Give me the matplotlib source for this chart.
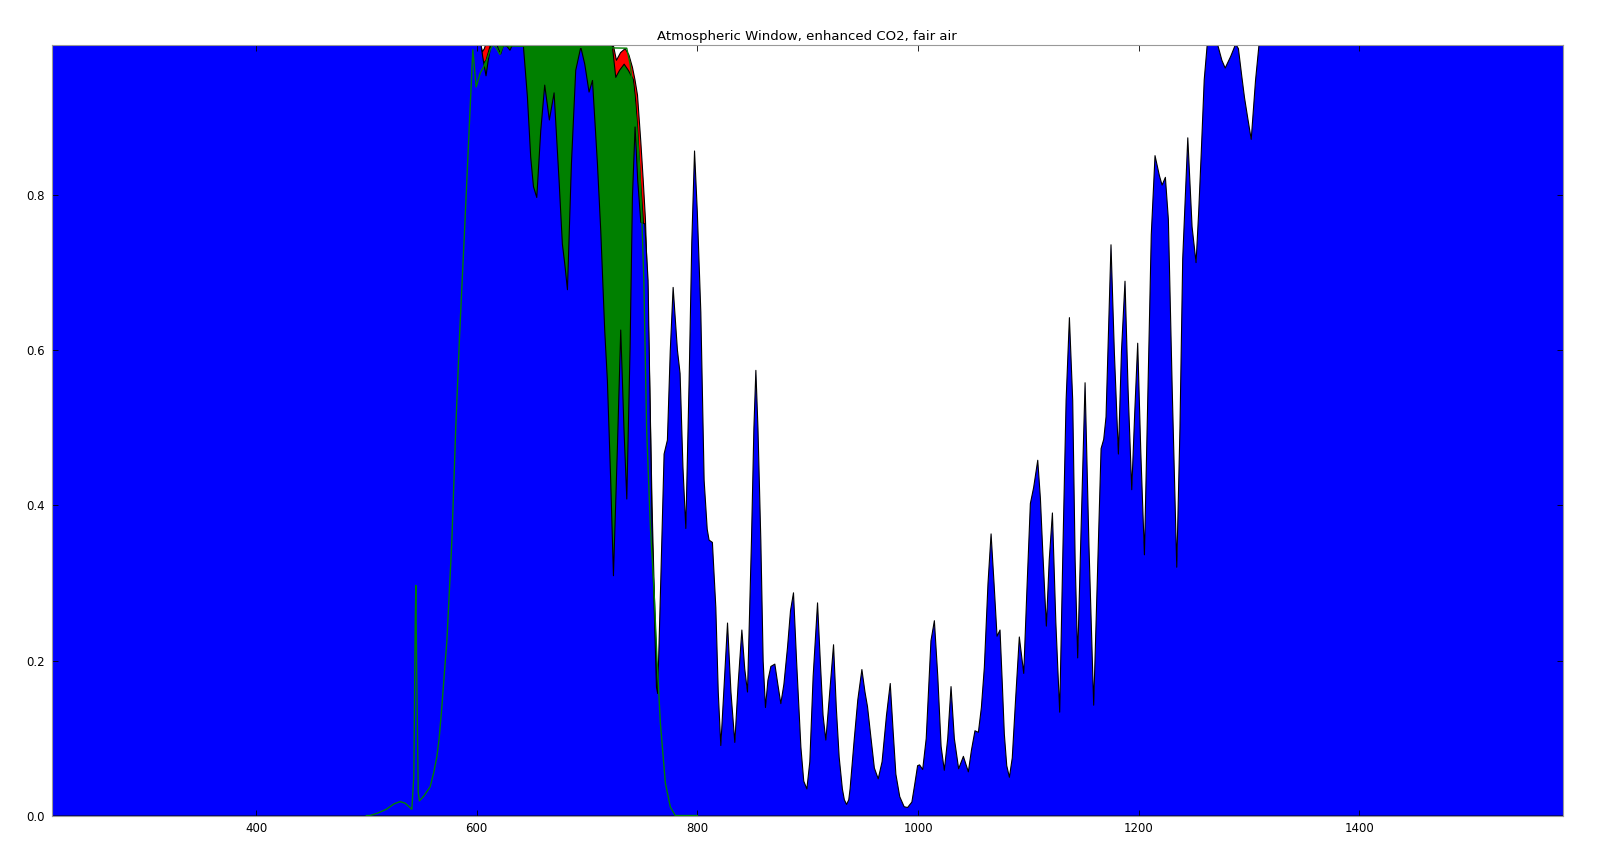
import numpy as np
import matplotlib
matplotlib.use('Agg')
from matplotlib import pyplot as plt

# wavenumber (cm-1) / absorption values
# blue = water vapour band, drawn on top
wn_blue = [214.6, 600, 603.5, 605.5, 608, 610, 612.5, 617, 619, 621.3, 624, 627, 629.7, 632, 636, 641.5,
           645.5, 648.5, 651, 654, 657.6, 661.2, 665.4, 669.7, 674.2, 677.2, 679.4, 681.8, 685.4, 689.3,
           693.9, 697.5, 701.4, 704.5, 709, 712, 715.6, 718, 721, 723.5, 727.1, 730.1, 733.1, 735.6,
           738.6, 740.7, 743.1, 745.5, 748.3, 751.9, 754.9, 758.8, 762.5, 763.6, 766.4, 769.4, 772.4,
           775, 777.6, 781.5, 783.9, 786.5, 789.1, 792.1, 794.5, 797, 799.5, 802.7, 805.7, 808.5, 810.2,
           813.2, 816.3, 818.5, 820.8, 823.5, 826.9, 830, 833.5, 836.5, 839.9, 842.5, 845, 848.6, 850.8,
           852.6, 854.5, 857.1, 859.2, 861.3, 863.5, 866.2, 869.8, 872.5, 875.2, 878, 881.3, 884, 886.7,
           889.5, 893.4, 896, 898.8, 901.5, 904.5, 908.5, 911, 913.5, 916, 919, 923, 925.5, 928.1, 931,
           932.8, 934.8, 936.8, 938, 941.7, 945, 948.7, 951.5, 953.8, 957, 960, 963.5, 967, 971, 974.4, 977,
           979.5, 983, 987, 990.1, 994, 996.5, 999.2, 1001, 1003.8, 1007, 1011.3, 1014.4, 1017.5, 1020.5,
           1023.4, 1026.5, 1029.5, 1032.5, 1036.4, 1040.7, 1045.2, 1048, 1051.2, 1054.3, 1057, 1059.7, 1063,
           1065.8, 1068.5, 1071.2, 1073.9, 1076, 1077.8, 1080, 1082.4, 1085, 1088, 1091.4, 1095.4, 1098.5,
           1101.4, 1104.4, 1108.1, 1110.5, 1112.6, 1115.9, 1118.5, 1121.4, 1124.5, 1128, 1131, 1133.8,
           1136.8, 1139.8, 1142, 1144.3, 1147, 1151, 1154.5, 1158.8, 1162, 1165.5, 1167.9, 1170, 1174.5,
           1177.5, 1181.2, 1184, 1187.2, 1190, 1193.3, 1196, 1198.7, 1201.5, 1204.8, 1208, 1211, 1214.4,
           1218.4, 1220.8, 1223.8, 1226.5, 1230, 1234.1, 1237, 1239.5, 1244.1, 1248, 1251.6, 1254, 1256.2,
           1259, 1262, 1269, 1271.4, 1275, 1278, 1283, 1287.5, 1290, 1293, 1295.5, 1298.5, 1301.6, 1303.5,
           1305.5, 1309, 1584.7]
abs_blue = [1.0, 1.0, 0.994, 0.975, 0.955, 0.975, 0.994, 1.0, 0.99, 0.983, 0.995, 0.993, 0.988, 0.995, 1.0, 1.0,
            0.928, 0.85, 0.812, 0.798, 0.884, 0.943, 0.898, 0.933, 0.82, 0.738, 0.712, 0.679, 0.841, 0.962,
            0.992, 0.97, 0.934, 0.949, 0.841, 0.755, 0.626, 0.562, 0.433, 0.31, 0.476, 0.627, 0.497, 0.409,
            0.605, 0.798, 0.889, 0.82, 0.766, 0.764, 0.691, 0.347, 0.166, 0.158, 0.304, 0.467, 0.485,
            0.6, 0.682, 0.601, 0.571, 0.45, 0.371, 0.562, 0.74, 0.858, 0.78, 0.65, 0.433, 0.37, 0.356,
            0.353, 0.269, 0.16, 0.091, 0.16, 0.249, 0.16, 0.095, 0.17, 0.240, 0.19, 0.160, 0.355, 0.5,
            0.575, 0.5, 0.355, 0.2, 0.14, 0.175, 0.193, 0.196, 0.17, 0.145, 0.17, 0.218, 0.265, 0.288,
            0.2, 0.089, 0.045, 0.035, 0.07, 0.18, 0.275, 0.2, 0.13, 0.098, 0.15, 0.221, 0.14, 0.076, 0.035,
            0.021, 0.015, 0.021, 0.035, 0.098, 0.15, 0.189, 0.16, 0.141, 0.1, 0.062, 0.048, 0.07, 0.13, 0.171, 0.11,
            0.054, 0.025, 0.012, 0.011, 0.018, 0.04, 0.065, 0.066, 0.060, 0.1, 0.226, 0.252, 0.18, 0.09,
            0.059, 0.1, 0.167, 0.1, 0.061, 0.077, 0.057, 0.085, 0.110, 0.108, 0.14, 0.192, 0.3,
            0.364, 0.3, 0.232, 0.240, 0.17, 0.106, 0.065, 0.050, 0.075, 0.15, 0.231, 0.184, 0.3,
            0.403, 0.424, 0.459, 0.41, 0.343, 0.245, 0.33, 0.391, 0.25, 0.134, 0.35, 0.536,
            0.643, 0.536, 0.33, 0.204, 0.35, 0.559, 0.35, 0.143, 0.3, 0.474, 0.486, 0.515, 0.737,
            0.6, 0.467, 0.6, 0.690, 0.55, 0.421, 0.52, 0.610, 0.47, 0.337, 0.55, 0.75, 0.852,
            0.826, 0.814, 0.824, 0.770, 0.55, 0.321, 0.5, 0.719, 0.875, 0.76, 0.714, 0.78, 0.852,
            0.95, 1.0, 1.0, 0.994, 0.975, 0.965, 0.98, 0.996, 0.99, 0.955, 0.927, 0.9, 0.873, 0.91,
            0.949, 1.0, 1.0]

# green = with CO2 at normal concentration
wn_green = [595, 602, 603.5, 605.6, 608, 611, 613, 722, 725.6, 729, 733.2, 737, 741.6, 743.5, 745.3,
            748, 750.5, 752.5, 755, 757.5, 760.5, 763.6]
abs_green = [1.0, 1.0, 0.99, 0.971, 0.975, 0.99, 1.0, 1.0, 0.953, 0.962, 0.970, 0.962, 0.950, 0.925, 0.89,
             0.82, 0.77, 0.72, 0.6, 0.42, 0.27, 0.158]

# red = enhanced CO2
wn_red = [595, 602.5, 604.7, 606.5, 608.6, 722.6, 726.2, 730, 734.1, 737.5, 740.7, 743, 745.3, 748.3,
          750.5, 752.5, 754.5, 756.5, 758.5, 760.5, 762.5, 763.6]
abs_red = [1.0, 1.0, 0.986, 0.99, 1.0, 1.0, 0.975, 0.985, 0.990, 0.982, 0.966, 0.95, 0.93, 0.87,
           0.82, 0.77, 0.68, 0.55, 0.40, 0.29, 0.20, 0.158]

# CO2 only line
wn_co2 = [500, 503.3, 510, 518, 525, 530.6, 535, 539, 541.2, 543, 544.3, 544.8, 545.5, 547, 548.1, 552,
          557.8, 561, 563.9, 566, 568.4, 570.5, 573, 577.5, 581, 584.5, 588.8, 593.4, 596.5, 599.5, 603.2,
          606, 609.2, 612.2, 615, 618, 621, 624, 736, 739, 742, 745, 747.5, 749.5, 751.5, 754, 757.5, 760.4,
          763.5, 766.5, 771, 775.5, 780, 800]
abs_co2 = [0.0, 0.0, 0.003, 0.008, 0.015, 0.018, 0.016, 0.011, 0.008, 0.05, 0.25, 0.297, 0.2, 0.03, 0.019, 0.025,
           0.037, 0.055, 0.076, 0.1, 0.14, 0.18, 0.226, 0.355, 0.5, 0.62, 0.749, 0.893, 0.988, 0.94, 0.958,
           0.965, 0.975, 0.988, 0.995, 0.99, 0.982, 0.993, 0.99, 0.97, 0.935, 0.89, 0.84, 0.78, 0.69, 0.5,
           0.37, 0.3, 0.2, 0.119, 0.042, 0.011, 0.0, 0.0]

fig = plt.figure(figsize=(16, 8.52), dpi=100)
ax = fig.add_axes([0.0322, 0.0428, 0.9447, 0.9043])

ax.fill_between(wn_red, 0, abs_red, facecolor='#ff0000', edgecolor='black', linewidth=0.8)
ax.fill_between(wn_green, 0, abs_green, facecolor='#008000', edgecolor='black', linewidth=0.8)
ax.fill_between(wn_blue, 0, abs_blue, facecolor='#0000ff', edgecolor='black', linewidth=0.8)
ax.plot(wn_co2, abs_co2, color='#008000', linewidth=1)

ax.set_xlim(214.6, 1584.7)
ax.set_ylim(0, 0.994)
ax.set_xticks([400, 600, 800, 1000, 1200, 1400])
ax.set_yticks([0.0, 0.2, 0.4, 0.6, 0.8])
ax.tick_params(direction='in', top=True, right=True, length=4, width=0.6, labelsize=8.5, pad=5)
for s in ax.spines.values():
    s.set_color('0.6')
ax.set_title('Atmospheric Window, enhanced CO2, fair air', fontsize=9.5, pad=4)

fig.savefig('out.png', dpi=100)
